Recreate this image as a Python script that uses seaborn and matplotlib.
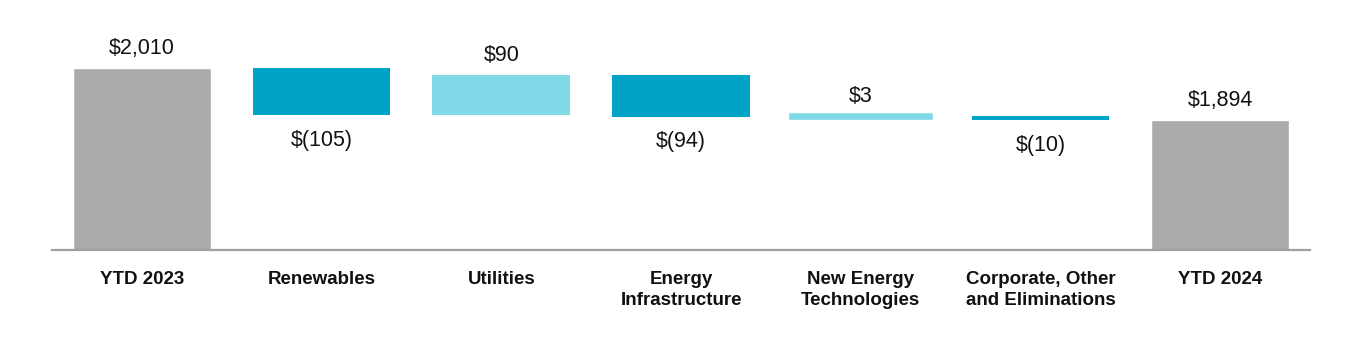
import numpy as np
import matplotlib
matplotlib.use("Agg")
import matplotlib.pyplot as plt
import seaborn as sns

categories = ["YTD 2023", "Renewables", "Utilities", "Energy\nInfrastructure",
              "New Energy\nTechnologies", "Corporate, Other\nand Eliminations", "YTD 2024"]
start_total = 2010
changes = [-105, 90, -94, 3, -10]
end_total = 1894
value_labels = ["$2,010", "$(105)", "$90", "$(94)", "$3", "$(10)", "$1,894"]

GRAY = "#ABABAB"
DARK = "#00A3C8"
LIGHT = "#7FD9E7"

sns.set_theme(style="white")
plt.rcParams['font.family'] = ['Liberation Sans', 'DejaVu Sans']

fig = plt.figure(figsize=(13.6, 3.5), dpi=100)
ax = fig.add_axes([52/1360, 100/350, 1258/1360, 250/350])

totals = [start_total] + [np.nan] * len(changes) + [end_total]
sns.barplot(x=categories, y=totals, color=GRAY, width=0.767, saturation=1, ax=ax)

levels = start_total + np.cumsum(changes)
prev = np.concatenate([[start_total], levels[:-1]])
bottoms = np.minimum(prev, levels)
heights = np.abs(changes)
colors = [DARK if c < 0 else LIGHT for c in changes]
pos = np.arange(1, len(changes) + 1)
lws = [4.0 if h < 5 else 0 for h in heights]
ax.bar(pos, heights, bottom=bottoms, width=0.767, color=colors,
       edgecolor=colors, linewidth=lws)

ax.set_xlim(-0.5, 6.5)
ax.set_ylim(1604, 2162)

# labels
tops = [start_total] + list(np.maximum(prev, levels)) + [end_total]
bots = [1604] + list(bottoms) + [1604]
signs = [1] + [1 if c > 0 else -1 for c in changes] + [1]
for i, (lab, s) in enumerate(zip(value_labels, signs)):
    if s > 0:
        ax.annotate(lab, (i, tops[i]), xytext=(0, 14), textcoords="offset points",
                    ha="center", va="center", fontsize=15.5, color="#111111")
    else:
        ax.annotate(lab, (i, bots[i]), xytext=(0, -18), textcoords="offset points",
                    ha="center", va="center", fontsize=15.5, color="#111111")

for sp in ["top", "right", "left"]:
    ax.spines[sp].set_visible(False)
ax.spines["bottom"].set_color("#A0A0A0")
ax.spines["bottom"].set_linewidth(1.6)
ax.set_yticks([])
ax.tick_params(axis="x", length=0, pad=15)
ax.set_xticks(range(len(categories)))
ax.set_xticklabels(categories, fontsize=13.5, fontweight="bold", color="#111111",
                   linespacing=1.35)
ax.set_ylabel("")
ax.set_xlabel("")

fig.savefig("out.png", dpi=100)
